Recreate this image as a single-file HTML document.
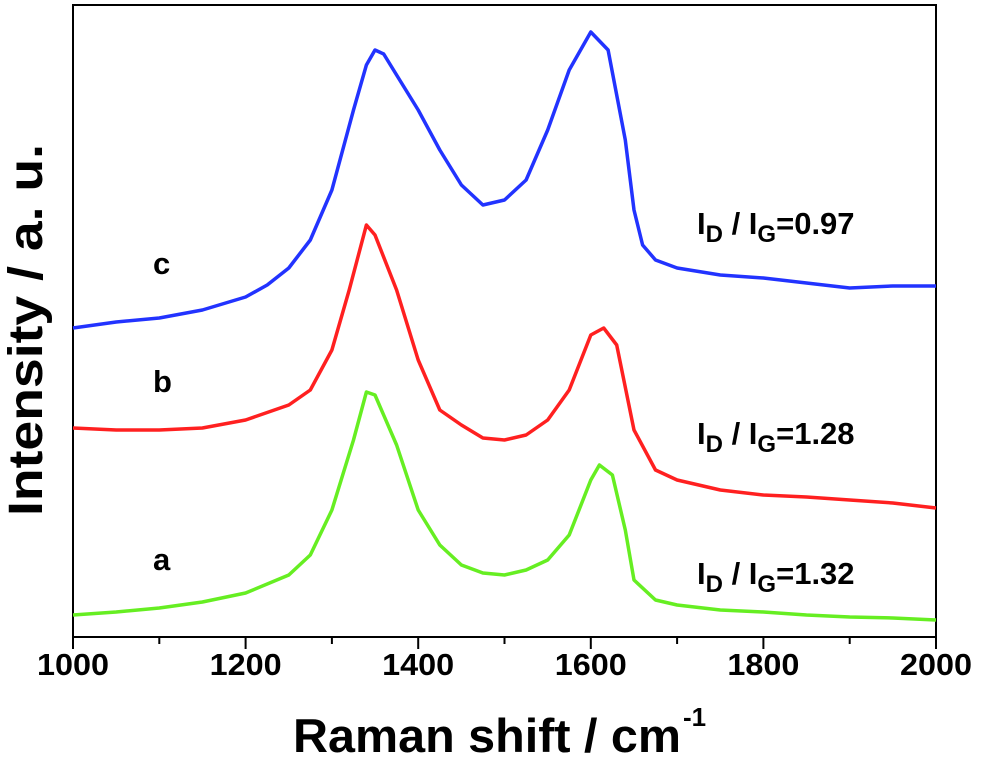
<!DOCTYPE html>
<html><head><meta charset="utf-8"><style>
body{margin:0;background:#fff;}
svg{display:block;font-family:"Liberation Sans",Arial,sans-serif;font-weight:bold;}
</style></head><body>
<svg id="chart" width="981" height="761" viewBox="0 0 981 761">
<rect x="73" y="5" width="863" height="632" fill="none" stroke="#000" stroke-width="2"/>
<g id="ticks"></g>
<g id="series"></g>
<text x="293" y="752" font-size="47" textLength="388" lengthAdjust="spacingAndGlyphs">Raman shift / cm</text>
<text x="683" y="726" font-size="26">-1</text>
<text transform="translate(42,330) rotate(-90)" font-size="48" text-anchor="middle" textLength="372" lengthAdjust="spacingAndGlyphs">Intensity / a. u.</text>
<text x="153" y="274" font-size="31">c</text>
<text x="153" y="392" font-size="31">b</text>
<text x="153" y="570" font-size="31">a</text>
<text x="697" y="234" font-size="31">I<tspan font-size="24" dy="8">D</tspan><tspan dy="-8"> / I</tspan><tspan font-size="24" dy="8">G</tspan><tspan dy="-8">=0.97</tspan></text>
<text x="697" y="444" font-size="31">I<tspan font-size="24" dy="8">D</tspan><tspan dy="-8"> / I</tspan><tspan font-size="24" dy="8">G</tspan><tspan dy="-8">=1.28</tspan></text>
<text x="697" y="584" font-size="31">I<tspan font-size="24" dy="8">D</tspan><tspan dy="-8"> / I</tspan><tspan font-size="24" dy="8">G</tspan><tspan dy="-8">=1.32</tspan></text>
</svg>
<script>
const xTicks=[1000,1200,1400,1600,1800,2000];
const minorTicks=[1100,1300,1500,1700,1900];
const xC=[1000,1050,1100,1150,1200,1225,1250,1275,1300,1325,1340,1350,1360,1375,1400,1425,1450,1475,1500,1525,1550,1575,1600,1620,1640,1650,1660,1675,1700,1750,1800,1850,1900,1950,2000];
const yC=[309,315,319,327,340,352,369,397,447,527,572,587,583,562,527,487,452,432,437,457,507,567,605,587,497,427,392,377,369,362,359,354,349,351,351];
const xB=[1000,1050,1100,1150,1200,1250,1275,1300,1320,1340,1350,1375,1400,1425,1450,1475,1500,1525,1550,1575,1600,1615,1630,1650,1675,1700,1750,1800,1850,1900,1950,2000];
const yB=[209,207,207,209,217,232,247,287,347,412,402,347,277,227,212,199,197,202,217,247,302,309,292,207,167,157,147,142,140,137,134,129];
const xA=[1000,1050,1100,1150,1200,1250,1275,1300,1325,1340,1350,1375,1400,1425,1450,1475,1500,1525,1550,1575,1600,1610,1625,1640,1650,1675,1700,1750,1800,1850,1900,1950,2000];
const yA=[22,25,29,35,44,62,82,127,197,245,242,192,127,92,72,64,62,67,77,102,157,172,162,107,57,37,32,27,25,22,20,19,17];
const X0=1000,X1=2000,PL=73,PR=936,PT=4,PB=637,YMAX=633;
const sx=v=>PL+(v-X0)/(X1-X0)*(PR-PL);
const sy=v=>PB-v/YMAX*(PB-PT);
const NS="http://www.w3.org/2000/svg";
const tg=document.getElementById('ticks');
xTicks.forEach(t=>{
 const l=document.createElementNS(NS,'line');
 l.setAttribute('x1',sx(t));l.setAttribute('x2',sx(t));l.setAttribute('y1',PB);l.setAttribute('y2',PB+12);
 l.setAttribute('stroke','#000');l.setAttribute('stroke-width','2');
 
 
 tg.appendChild(l);
 const tx=document.createElementNS(NS,'text');
 tx.setAttribute('x',sx(t));tx.setAttribute('y',675);tx.setAttribute('font-size','31');tx.setAttribute('text-anchor','middle');
 tx.setAttribute('textLength','72');tx.setAttribute('lengthAdjust','spacingAndGlyphs');
 tx.textContent=t;
 
 
 tg.appendChild(tx);
});
minorTicks.forEach(t=>{
 const l=document.createElementNS(NS,'line');
 l.setAttribute('x1',sx(t));l.setAttribute('x2',sx(t));l.setAttribute('y1',PB);l.setAttribute('y2',PB+7);
 l.setAttribute('stroke','#000');l.setAttribute('stroke-width','2');
 
 
 tg.appendChild(l);
});
const sg=document.getElementById('series');
[[xA,yA,'#66ee22','series-a'],[xB,yB,'#ff2020','series-b'],[xC,yC,'#2233ff','series-c']].forEach(s=>{
 const p=document.createElementNS(NS,'polyline');
 p.setAttribute('points',s[0].map((x,i)=>sx(x).toFixed(1)+','+sy(s[1][i]).toFixed(1)).join(' '));
 p.setAttribute('fill','none');p.setAttribute('stroke',s[2]);p.setAttribute('stroke-width','3.5');p.setAttribute('stroke-linejoin','round');
 
 
 sg.appendChild(p);
});
</script>
</body></html>
